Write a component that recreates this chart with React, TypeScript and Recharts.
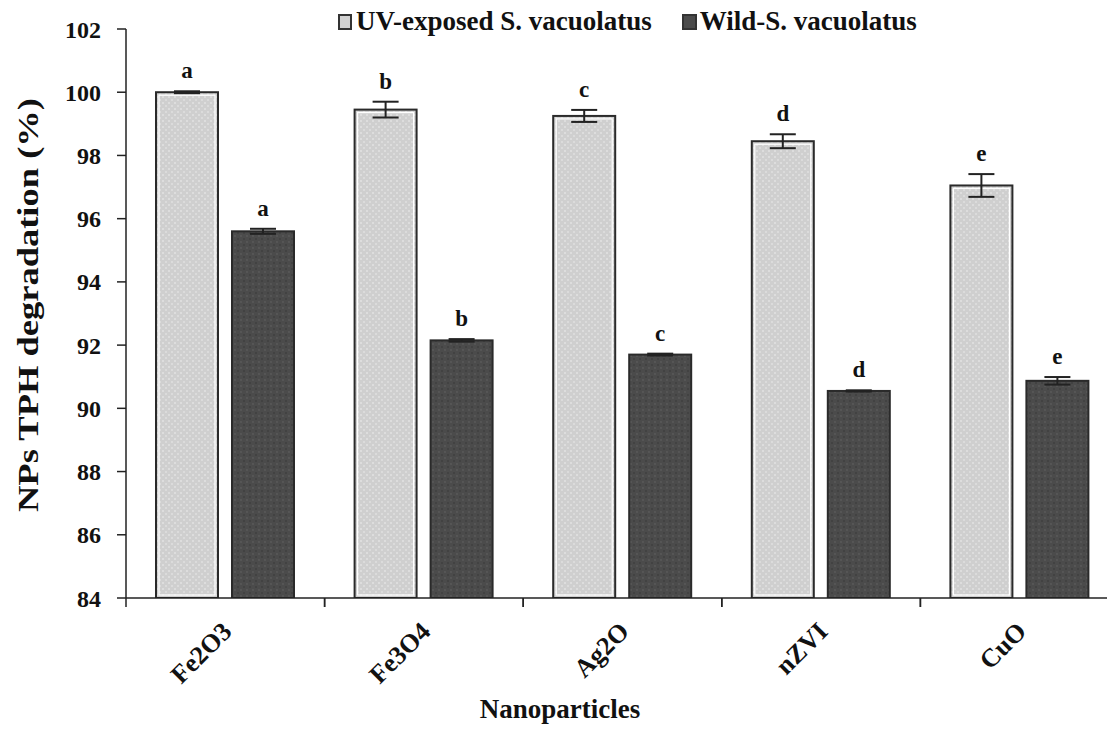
import { BarChart, Bar, XAxis, YAxis, ErrorBar, LabelList } from 'recharts';

const categories = ['Fe2O3', 'Fe3O4', 'Ag2O', 'nZVI', 'CuO'];
const uvValues = [100.0, 99.45, 99.25, 98.45, 97.05];
const uvErrors = [0.03, 0.25, 0.19, 0.22, 0.36];
const wildValues = [95.6, 92.15, 91.7, 90.55, 90.87];
const wildErrors = [0.08, 0.04, 0.03, 0.02, 0.12];
const letters = ['a', 'b', 'c', 'd', 'e'];
const yTicks = [84, 86, 88, 90, 92, 94, 96, 98, 100, 102];

const data = categories.map((name, i) => ({
  name,
  uv: uvValues[i],
  uvErr: uvErrors[i],
  wild: wildValues[i],
  wildErr: wildErrors[i],
  letter: letters[i],
}));

const FONT = '"Liberation Serif", "Times New Roman", serif';
const CHART_W = 1130;
const CHART_H = 744;
const MARGIN = { top: 29, right: 11, left: 56, bottom: 46 };
const Y_WIDTH = 70;
const BAND = (CHART_W - MARGIN.left - Y_WIDTH - MARGIN.right) / categories.length;

const LightBar = (props: any) => {
  const { x, y, width, height } = props;
  if (!height) return null;
  return (
    <g>
      <rect x={x} y={y} width={width} height={height} fill="url(#lightDots)" stroke="#2a2a2a" strokeWidth={2} />
      <rect x={x + 3} y={y + 3} width={width - 6} height={height - 6} fill="none" stroke="#ffffff" strokeWidth={1.2} />
    </g>
  );
};

const DarkBar = (props: any) => {
  const { x, y, width, height } = props;
  if (!height) return null;
  return <rect x={x} y={y} width={width} height={height} fill="url(#darkDots)" stroke="#2a2a2a" strokeWidth={2} />;
};

// letter sits just above the error bar cap
const letterLabel = (values: number[], errors: number[]) => (props: any) => {
  const { x, y, width, height, value, index } = props;
  const pxPerUnit = height / (values[index] - 84);
  const errPx = errors[index] * pxPerUnit;
  return (
    <text x={x + width / 2} y={y - errPx - 13} textAnchor="middle" fontFamily={FONT} fontWeight="bold" fontSize={23} fill="#111">
      {value}
    </text>
  );
};

const XTick = (props: any) => {
  const { x, y, payload } = props;
  const tx = x + 8;
  const ty = y + 35;
  return (
    <g>
      <line x1={x - BAND / 2} x2={x - BAND / 2} y1={y} y2={y + 9} stroke="#222" strokeWidth={1.5} />
      <line x1={x + BAND / 2} x2={x + BAND / 2} y1={y} y2={y + 9} stroke="#222" strokeWidth={1.5} />
      <text
        x={tx}
        y={ty}
        textAnchor="end"
        transform={`rotate(-45, ${tx}, ${ty})`}
        fontFamily={FONT}
        fontWeight="bold"
        fontSize={26}
        fill="#111"
      >
        {payload.value}
      </text>
    </g>
  );
};

const Legend = () => (
  <div
    style={{
      position: 'absolute',
      top: 6,
      left: 338,
      display: 'flex',
      alignItems: 'center',
      fontFamily: FONT,
      fontWeight: 'bold',
      fontSize: 27,
      color: '#111',
      whiteSpace: 'nowrap',
    }}
  >
    <span style={{ display: 'inline-block', width: 10, height: 12, background: '#d2d2d2', border: '2px solid #333', marginRight: 4 }} />
    <span style={{ marginRight: 30 }}>UV-exposed S. vacuolatus</span>
    <span style={{ display: 'inline-block', width: 11, height: 12, background: '#4b4b4b', border: '2px solid #333', marginRight: 3 }} />
    <span>Wild-S. vacuolatus</span>
  </div>
);

export default function App() {
  return (
    <div style={{ position: 'absolute', left: 0, top: 0, width: 1107, height: 744, overflow: 'hidden', background: '#fff' }}>
      <BarChart
        width={CHART_W}
        height={CHART_H}
        data={data}
        margin={MARGIN}
        barCategoryGap={30}
        barGap={14}
      >
        <defs>
          <pattern id="lightDots" width="6" height="6" patternUnits="userSpaceOnUse">
            <rect width="6" height="6" fill="#cfcfcf" />
            <circle cx="1" cy="1" r="0.8" fill="#f0f0f0" />
            <circle cx="4" cy="4" r="0.8" fill="#ebebeb" />
          </pattern>
          <pattern id="darkDots" width="6" height="6" patternUnits="userSpaceOnUse">
            <rect width="6" height="6" fill="#4b4b4b" />
            <circle cx="1" cy="2" r="0.9" fill="#5a5a5a" />
            <circle cx="4" cy="5" r="0.9" fill="#3d3d3d" />
          </pattern>
        </defs>
        <XAxis
          dataKey="name"
          height={100}
          axisLine={{ stroke: '#222', strokeWidth: 1.5 }}
          tickLine={false}
          tickSize={0}
          tickMargin={0}
          interval={0}
          tick={<XTick />}
          label={{
            content: () => (
              <text x={560} y={718} textAnchor="middle" fontFamily={FONT} fontWeight="bold" fontSize={27} fill="#111">
                Nanoparticles
              </text>
            ),
          }}
        />
        <YAxis
          width={Y_WIDTH}
          domain={[84, 102]}
          ticks={yTicks}
          interval={0}
          allowDataOverflow
          axisLine={{ stroke: '#222', strokeWidth: 1.5 }}
          tickLine={{ stroke: '#222', strokeWidth: 1.5 }}
          tickSize={9}
          tickMargin={16}
          tick={{ fontFamily: FONT, fontWeight: 'bold', fontSize: 24, fill: '#111' }}
          label={{
            content: () => (
              <text
                x={38}
                y={305}
                textAnchor="middle"
                transform="rotate(-90, 38, 305)"
                fontFamily={FONT}
                fontWeight="bold"
                fontSize={29}
                fill="#111"
                textLength={414}
                lengthAdjust="spacingAndGlyphs"
              >
                NPs TPH degradation (%)
              </text>
            ),
          }}
        />
        <Bar dataKey="uv" shape={<LightBar />} isAnimationActive={false}>
          <ErrorBar dataKey="uvErr" width={13} stroke="#222" strokeWidth={2} direction="y" />
          <LabelList dataKey="letter" content={letterLabel(uvValues, uvErrors)} />
        </Bar>
        <Bar dataKey="wild" shape={<DarkBar />} isAnimationActive={false}>
          <ErrorBar dataKey="wildErr" width={13} stroke="#222" strokeWidth={2} direction="y" />
          <LabelList dataKey="letter" content={letterLabel(wildValues, wildErrors)} />
        </Bar>
      </BarChart>
      <Legend />
    </div>
  );
}
